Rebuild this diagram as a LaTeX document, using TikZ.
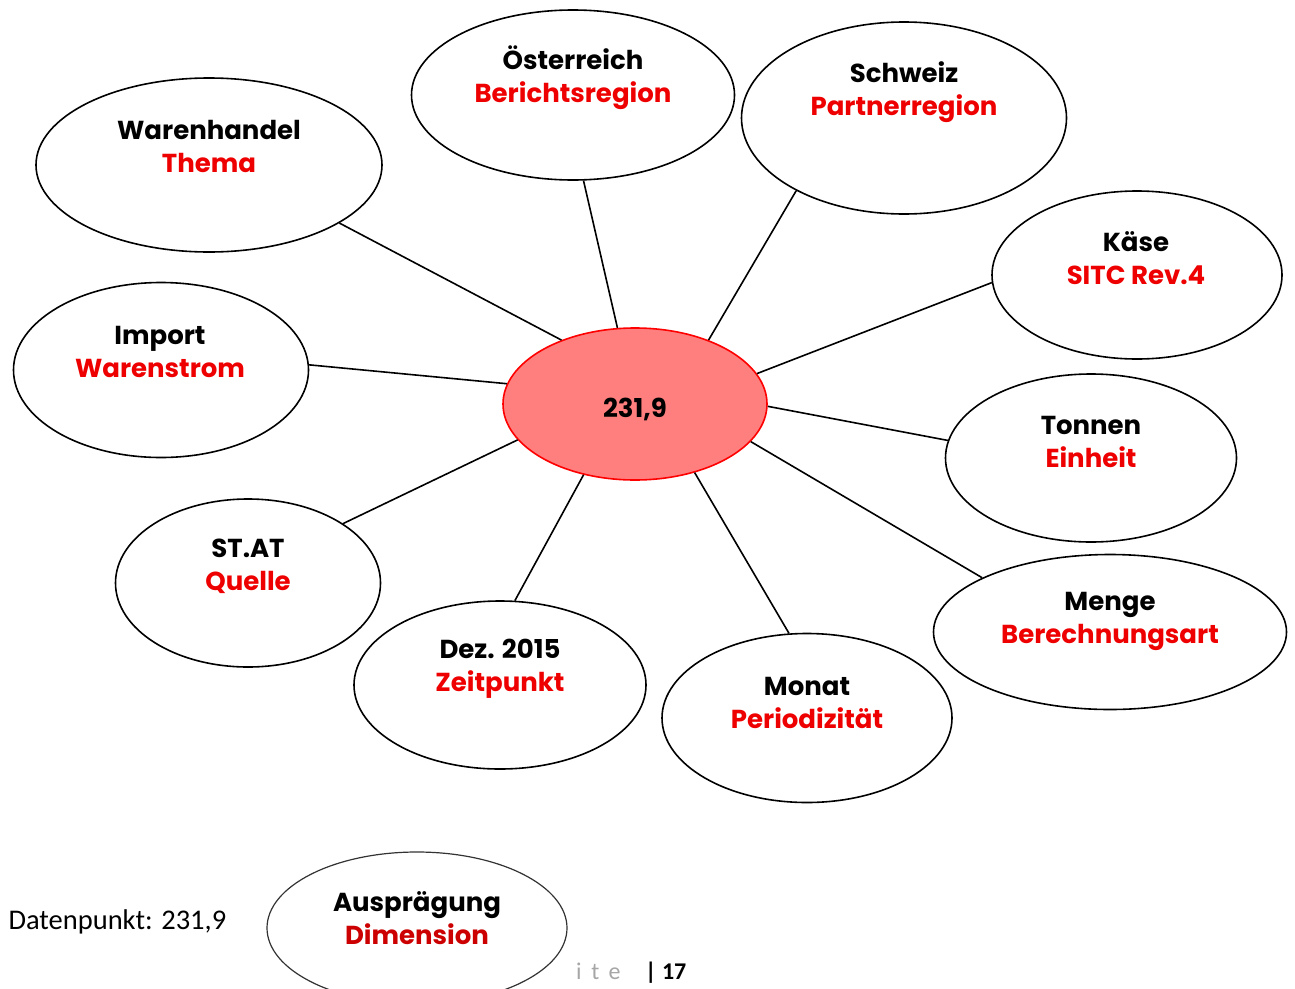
\documentclass[tikz,border=0pt]{standalone}
\usepackage{fontspec}
\setmainfont{Poppins}
\newfontfamily\calibri{Carlito}
\usetikzlibrary{shapes.geometric}
\definecolor{dimred}{RGB}{238,0,0}
\definecolor{hubfill}{RGB}{255,127,127}
\tikzset{
  dimell/.style={ellipse, draw, line width=1.6pt, inner sep=0pt, fill=white},
  dimtxt/.style={align=center, inner sep=0pt, font=\fontsize{26}{33}\selectfont\bfseries},
  spoke/.style={line width=1.6pt},
}
\newcommand{\dimname}[1]{\textcolor{dimred}{#1}}

\begin{document}
\begin{tikzpicture}[x=1pt, y=-1pt]
  \useasboundingbox (0,0) rectangle (1295,988);
  \clip (0,0) rectangle (1295,988);
  % centre
  \node[dimell, draw=red, fill=hubfill, minimum width=264, minimum height=152] (hub) at (635,404) {};
  \node[dimtxt] (hubT) at (635,409) {231,9};
  % dimensions
  \node[dimell, minimum width=346, minimum height=174] (waren) at (209,165) {};
  \node[dimtxt] (warenT) at (209,146.5) {Warenhandel\\\dimname{Thema}};
  \node[dimell, minimum width=323, minimum height=170] (oest) at (573,95) {};
  \node[dimtxt] (oestT) at (573,77.5) {Österreich\\\dimname{Berichtsregion}};
  \node[dimell, minimum width=325, minimum height=192] (schw) at (904,118) {};
  \node[dimtxt] (schwT) at (904,92.5) {Schweiz\\\dimname{Partnerregion}};
  \node[dimell, minimum width=290, minimum height=168] (kaese) at (1137,275) {};
  \node[dimtxt] (kaeseT) at (1136,258.5) {Käse\\\dimname{SITC Rev.4}};
  \node[dimell, minimum width=295, minimum height=175] (imp) at (161,370) {};
  \node[dimtxt] (impT) at (160,351.5) {Import\\\dimname{Warenstrom}};
  \node[dimell, minimum width=291, minimum height=168] (tonn) at (1091,458) {};
  \node[dimtxt] (tonnT) at (1091,441.5) {Tonnen\\\dimname{Einheit}};
  \node[dimell, minimum width=265, minimum height=168] (stat) at (248,583) {};
  \node[dimtxt] (statT) at (248,566.5) {ST.AT\\\dimname{Quelle}};
  \node[dimell, minimum width=353, minimum height=155] (menge) at (1110,632) {};
  \node[dimtxt] (mengeT) at (1110,621.5) {Menge\\\dimname{Berechnungsart}};
  \node[dimell, minimum width=292, minimum height=168] (dez) at (500,685) {};
  \node[dimtxt] (dezT) at (500,668.5) {Dez. 2015\\\dimname{Zeitpunkt}};
  \node[dimell, minimum width=290, minimum height=169] (monat) at (807,718) {};
  \node[dimtxt] (monatT) at (807,702.5) {Monat\\\dimname{Periodizität}};
  % spokes
  \draw[spoke] (hub.139.5) -- (waren.-24.9);
  \draw[spoke] (hub.103.3) -- (oest.-83.4);
  \draw[spoke] (hub.41.2) -- (schw.214.6);
  \draw[spoke] (hub.14.6) -- (kaese.183.6);
  \draw[spoke] (hub.171.8) -- (imp.2.7);
  \draw[spoke] (hub.-1.7) -- (tonn.173.3);
  \draw[spoke] (hub.197.9) -- (stat.32.9);
  \draw[spoke] (hub.234.2) -- (dez.80.5);
  \draw[spoke] (hub.-49.7) -- (monat.102.7);
  \draw[spoke] (hub.-18.1) -- (menge.157.1);
  % legend and page footer
  \node[anchor=west, font=\calibri\fontsize{28.5}{32}\selectfont] (dpunkt) at (5,922) {Datenpunkt: 231,9};
  \node[anchor=base west, inner sep=0pt, font=\calibri\fontsize{24}{28}\selectfont, text=gray!70] (seite) at (576,979) {\addfontfeature{LetterSpace=40}ite};
  \node[anchor=base west, inner sep=0pt, font=\calibri\fontsize{24}{28}\selectfont\bfseries] (seiteNr) at (645,979) {| 17};
  \node[dimell, line width=1.2pt, draw=black!80, minimum width=300, minimum height=152] (auspr) at (417,928) {};
  \node[dimtxt] (ausprT) at (417,918.5) {Ausprägung\\\textcolor{red!80!black}{Dimension}};
\end{tikzpicture}
\end{document}
